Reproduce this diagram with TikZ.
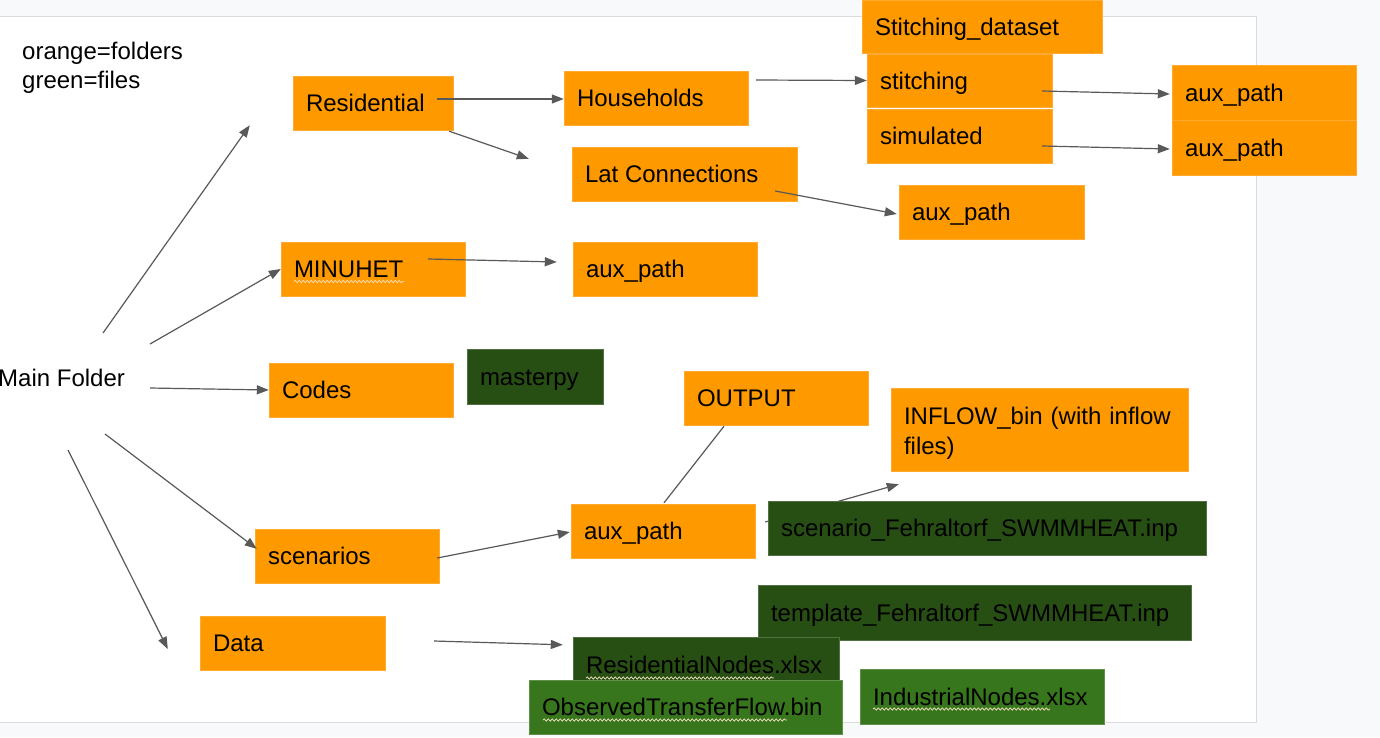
\documentclass[tikz,border=0pt]{standalone}
\usepackage{fontspec}
\setmainfont{Liberation Sans}
\usetikzlibrary{arrows.meta,calc,decorations.pathmorphing}
\definecolor{fold}{HTML}{FF9900}
\definecolor{foldedge}{HTML}{FFAA33}
\definecolor{dgreen}{HTML}{274E13}
\definecolor{lgreen}{HTML}{38761D}
\definecolor{arrowc}{HTML}{595959}
\definecolor{bgc}{HTML}{F8F9FA}
\definecolor{pageb}{HTML}{DADCE0}
\definecolor{squigc}{HTML}{F2E2C0}
\newcommand\mybox[7]{\node[#6, minimum width=#4pt, minimum height=#5pt] (#1) at (#2,#3) {\makebox[\dimexpr#4pt-26pt\relax][l]{#7}};}
\begin{document}
\begin{tikzpicture}[x=1pt,y=-1pt, font=\fontsize{24}{30}\selectfont,
  base/.style={rectangle, inner xsep=13pt, inner ysep=0pt, text height=17pt, text depth=0pt, text=black},
  obox/.style={base, fill=fold, draw=foldedge, line width=0.4pt},
  dbox/.style={base, fill=dgreen, draw=dgreen!80!white, line width=0.4pt},
  gbox/.style={base, fill=lgreen, draw=lgreen!80!white, line width=0.4pt},
  conn/.style={draw=arrowc, line width=1.2pt, -{Triangle[length=12pt,width=9pt]}},
  plainconn/.style={draw=arrowc, line width=1.2pt},
  squig/.style={draw=squigc, line width=0.7pt, decorate, decoration={snake, amplitude=1.2pt, segment length=4pt}}]
\useasboundingbox (0,0) rectangle (1380,737);
\fill[bgc] (0,0) rectangle (1380,737);
\filldraw[fill=white, draw=pageb, line width=1pt] (-3,16) rectangle (1256,722);

% legend
\node[anchor=base west, inner sep=0pt] (leg1) at (22,59) {orange=folders};
\node[anchor=base west, inner sep=0pt] (leg2) at (22,88) {green=files};

% main
\node[base, inner xsep=0pt, anchor=west] (main) at (-2,378) {Main Folder};

% folders
\mybox{sd}{982}{26.5}{240}{53}{obox}{Stitching\_dataset}
\mybox{stit}{959.5}{80.5}{185}{53}{obox}{stitching}
\mybox{sim}{959.5}{136}{185}{54}{obox}{simulated}
\mybox{auxa}{1264}{92.5}{184}{55}{obox}{aux\_path}
\mybox{auxb}{1264}{147.5}{184}{55}{obox}{aux\_path}
\mybox{res}{373}{103}{160}{54}{obox}{Residential}
\mybox{hh}{656}{98}{184}{54}{obox}{Households}
\mybox{lat}{684.5}{174}{225}{54}{obox}{Lat Connections}
\mybox{auxl}{991.5}{212}{185}{54}{obox}{aux\_path}
\mybox{minu}{373}{269}{184}{54}{obox}{MINUHET}
\mybox{auxm}{665}{269}{184}{54}{obox}{aux\_path}
\mybox{codes}{361}{390}{184}{54}{obox}{Codes}
\mybox{mpy}{535}{376.5}{136}{55}{dbox}{masterpy}
\mybox{out}{776}{398}{184}{54}{obox}{OUTPUT}
\node[obox, minimum width=297pt, minimum height=83pt, text width=271pt, align=left, text depth=27pt] (inflow) at (1039.5,429.5) {INFLOW\_bin (with inflow\\files)};
\mybox{auxs}{663}{531}{184}{54}{obox}{aux\_path}
\mybox{scen}{347}{556}{184}{54}{obox}{scenarios}
\mybox{data}{292.5}{643}{185}{54}{obox}{Data}
\mybox{tmpl}{974.5}{612.5}{433}{55}{dbox}{template\_Fehraltorf\_SWMMHEAT.inp}
\mybox{resn}{706}{664.5}{266}{55}{dbox}{ResidentialNodes.xlsx}
\mybox{obs}{685.5}{707}{313}{54}{gbox}{ObservedTransferFlow.bin}
\mybox{ind}{982}{696.5}{244}{55}{gbox}{IndustrialNodes.xlsx}

% connectors
\draw[conn] ($(main.west)+(105,-45)$) -- ($(res.south west)+(-43,-5)$);
\draw[conn] ($(main.west)+(152,-34)$) -- (minu.west);
\draw[conn] ($(main.west)+(152,10)$) -- (codes.west);
\draw[conn] ($(main.west)+(107,56)$) -- ($(scen.north west)+(2,20)$);
\draw[conn] ($(main.west)+(70,72)$) -- ($(data.west)+(-32,6)$);
\draw[conn] ($(res.east)+(-16,-4)$) -- ($(hh.west)+(0,1)$);
\draw[conn] ($(res.south east)+(-4,1)$) -- ($(lat.north west)+(-43,12)$);
\draw[conn] ($(hh.east)+(8,-18)$) -- (stit.west);
\draw[conn] ($(stit.east)+(-10,10.5)$) -- ($(auxa.west)+(-2,1.5)$);
\draw[conn] ($(sim.east)+(-10,10)$) -- ($(auxb.west)+(-2,1.5)$);
\draw[conn] ($(lat.east)+(-22,17)$) -- ($(auxl.west)+(-2,2)$);
\draw[conn] ($(minu.east)+(-37,-10)$) -- ($(auxm.west)+(-16,-7)$);
\draw[conn] ($(scen.east)+(-2,2)$) -- ($(auxs.west)+(-1,1)$);
\draw[plainconn] ($(auxs.north)+(1,-1)$) -- ($(out.south)+(-52,1)$);
\draw[conn] ($(auxs.east)+(10,-9)$) -- ($(inflow.south west)+(8,13)$);
\draw[conn] ($(data.east)+(49,-2)$) -- ($(resn.north west)+(-10,8)$);

% file box drawn over the connector to INFLOW
\mybox{scf}{987}{528}{438}{54}{dbox}{scenario\_Fehraltorf\_SWMMHEAT.inp}

% spell-check underlines
\draw[squig] (294,281.5) -- (404,281.5);
\draw[squig] (586,678) -- (774,678);
\draw[squig] (543,720) -- (787,720);
\draw[squig] (873,709) -- (1050,709);
\end{tikzpicture}
\end{document}
